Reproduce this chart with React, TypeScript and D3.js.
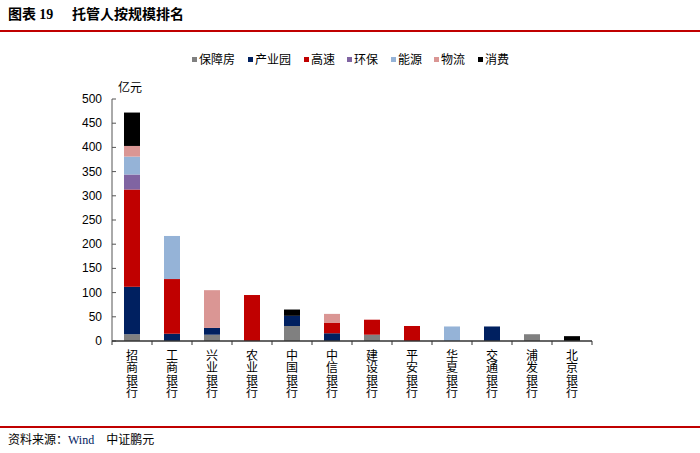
import React from "react";
import * as d3 from "d3";

const banks = ["招商银行", "工商银行", "兴业银行", "农业银行", "中国银行", "中信银行", "建设银行", "平安银行", "华夏银行", "交通银行", "浦发银行", "北京银行"];
const seriesNames = ["保障房", "产业园", "高速", "环保", "能源", "物流", "消费"];
const seriesColors = ["#808080", "#002060", "#C00000", "#8064A2", "#95B3D7", "#DA9694", "#000000"];
const baozhangfang = [14, 0, 13, 0, 31, 0, 13, 0, 0, 0, 14, 0];
const chanyeyuan = [98, 15, 14, 0, 21, 16, 0, 0, 0, 30, 0, 0];
const gaosu = [201, 113, 0, 95, 0, 22, 31, 31, 0, 0, 0, 0];
const huanbao = [31, 0, 0, 0, 0, 0, 0, 0, 0, 0, 0, 0];
const nengyuan = [37, 89, 0, 0, 0, 0, 0, 0, 30, 0, 0, 0];
const wuliu = [22, 0, 78, 0, 0, 18, 0, 0, 0, 0, 0, 0];
const xiaofei = [69, 0, 0, 0, 13, 0, 0, 0, 0, 0, 0, 10];
const yTicks = [0, 50, 100, 150, 200, 250, 300, 350, 400, 450, 500];

const seriesValues = [baozhangfang, chanyeyuan, gaosu, huanbao, nengyuan, wuliu, xiaofei];

export default function App() {
  const W = 700, H = 453;
  const x0 = 112, x1 = 592, yTop = 99, yBot = 341;
  const x = d3.scaleBand<string>().domain(banks).range([x0, x1]).paddingInner(0.6).paddingOuter(0.3);
  const y = d3.scaleLinear().domain([0, 500]).range([yBot, yTop]);
  const rows = banks.map((b, i) => {
    const r: any = { bank: b };
    seriesNames.forEach((s, j) => (r[s] = seriesValues[j][i]));
    return r;
  });
  const stacked = d3.stack().keys(seriesNames)(rows);
  const band = (x1 - x0) / banks.length;
  const font = "Arial, 'Liberation Sans', 'Noto Sans CJK SC', sans-serif";
  const cjk = "'Noto Sans CJK SC', sans-serif";
  const legendX = [192, 248, 304, 347, 391, 434, 478];
  return (
    <svg width={W} height={H} style={{ position: "absolute", left: 0, top: 0 }}>
      <rect width={W} height={H} fill="#fff" />
      <text x={8} y={19} fontSize={14} fontWeight="bold" fontFamily={cjk} fill="#000">
        图表 <tspan fontFamily="'Liberation Serif', serif" fontWeight="bold">19</tspan>
      </text>
      <text x={72} y={19} fontSize={14} fontWeight="bold" fontFamily={cjk} fill="#000">托管人按规模排名</text>
      <line x1={0} x2={W} y1={31} y2={31} stroke="#C00000" strokeWidth={2} />
      <line x1={0} x2={W} y1={427} y2={427} stroke="#C00000" strokeWidth={2} />
      <text x={8} y={444} fontSize={12} fontFamily={cjk} fill="#000">
        资料来源：<tspan fontFamily="'Liberation Serif', serif" fill="#002060">Wind</tspan>　中证鹏元
      </text>
      {seriesNames.map((s, i) => (
        <g key={s}>
          <rect x={legendX[i]} y={57} width={5} height={5} fill={seriesColors[i]} />
          <text x={legendX[i] + 7} y={64} fontSize={12} fontFamily={cjk} fill="#000">{s}</text>
        </g>
      ))}
      <text x={118} y={92} fontSize={12} fontFamily={cjk} fill="#000">亿元</text>
      {stacked.map((layer, i) => (
        <g key={layer.key} fill={seriesColors[i]}>
          {layer.map((d, j) =>
            d[1] - d[0] > 0 ? (
              <rect key={j} x={x(banks[j])!} width={x.bandwidth()} y={y(d[1])} height={y(d[0]) - y(d[1])} />
            ) : null
          )}
        </g>
      ))}
      <line x1={x0} x2={x0} y1={yTop} y2={yBot} stroke="#555" strokeWidth={1} />
      {yTicks.map((t) => (
        <g key={t}>
          <line x1={x0} x2={x0 + 4} y1={y(t)} y2={y(t)} stroke="#555" />
          <text x={102} y={y(t) + 4} textAnchor="end" fontSize={12} fontFamily={font} fill="#000">{t}</text>
        </g>
      ))}
      <line x1={x0} x2={x1} y1={yBot} y2={yBot} stroke="#333" strokeWidth={1.5} />
      {d3.range(banks.length + 1).map((i) => (
        <line key={i} x1={x0 + i * band} x2={x0 + i * band} y1={yBot} y2={yBot + 4} stroke="#333" />
      ))}
      {banks.map((b) => (
        <text
          key={b}
          x={x(b)! + x.bandwidth() / 2}
          y={349}
          style={{ writingMode: "vertical-rl", letterSpacing: "0.6px" } as any}
          fontSize={12}
          fontFamily={cjk}
          fill="#000"
        >
          {b}
        </text>
      ))}
    </svg>
  );
}
